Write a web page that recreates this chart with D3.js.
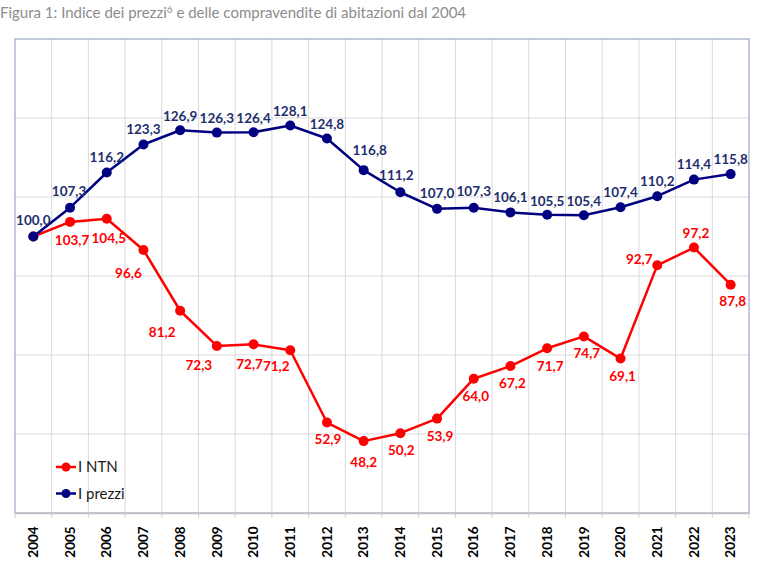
<!DOCTYPE html>
<html>
<head>
<meta charset="utf-8">
<script src="https://cdn.jsdelivr.net/npm/d3@7"></script>
<style>
  html, body { margin: 0; padding: 0; background: #fff; }
  svg { display: block; }
</style>
</head>
<body>
<svg id="chart" width="768" height="574"></svg>
<script>
// ---- DATA ----
const years = ["2004","2005","2006","2007","2008","2009","2010","2011","2012","2013",
               "2014","2015","2016","2017","2018","2019","2020","2021","2022","2023"];
const ntn    = [100.0,103.7,104.5,96.6,81.2,72.3,72.7,71.2,52.9,48.2,
                50.2,53.9,64.0,67.2,71.7,74.7,69.1,92.7,97.2,87.8];
const prezzi = [100.0,107.3,116.2,123.3,126.9,126.3,126.4,128.1,124.8,116.8,
                111.2,107.0,107.3,106.1,105.5,105.4,107.4,110.2,114.4,115.8];
const yTicks = [30,50,70,90,110,130,150];
const seriesNames = ["I NTN","I prezzi"];
const title = "Figura 1: Indice dei prezzi";
const titleSup = "6";
const titleRest = " e delle compravendite di abitazioni dal 2004";

// ---- LAYOUT (label offsets relative to markers, px) ----
const ntnLabelDx = [null,2,2,-15,-18,-18,-4,-14,1,0,1,3,2,2,3,3,2,-18,2,2];
const ntnLabelDy = [null,18,20,23,22,19,20,16,17,21,17,18,18,17,18,17,18,-6,-14,17];
const przLabelDx = [0,-1,0,0,0,0,0,0,0,6,-4,0,0,0,0,0,0,0,0,0];
const przLabelDy = [-16,-16,-15,-15,-14,-14,-14,-14,-14,-20,-17,-16,-16,-15,-14,-14,-15,-15,-15,-15];

const svg = d3.select("#chart");
const font = "Lato, 'Open Sans', sans-serif";
const pLeft = 15, pRight = 749, pTop = 39, pBottom = 513;

const x = d3.scaleBand().domain(years).range([pLeft, pRight]).paddingInner(0).paddingOuter(0);
const y = d3.scaleLinear().domain([30, 150]).range([pBottom, pTop]);
const cx = d => x(d) + x.bandwidth() / 2;

const itFmt = d3.formatLocale({decimal: ",", thousands: ".", grouping: [3], currency: ["", "€"]}).format(".1f");

// title
const t = svg.append("text")
  .attr("x", 0).attr("y", 18)
  .attr("font-family", font).attr("font-size", 15)
  .attr("fill", "#8c8c8c");
t.append("tspan").text(title);
t.append("tspan").attr("dy", -5).attr("font-size", 10).text(titleSup);
t.append("tspan").attr("dy", 5).text(titleRest);

// gridlines
const grid = svg.append("g");
grid.selectAll("line.h").data(yTicks.slice(1, -1)).join("line")
  .attr("x1", pLeft).attr("x2", pRight)
  .attr("y1", d => y(d)).attr("y2", d => y(d))
  .attr("stroke", "#d9d9d9").attr("stroke-width", 1);
const edges = years.slice(1).map(d => x(d));
grid.selectAll("line.v").data(edges).join("line")
  .attr("x1", d => d).attr("x2", d => d)
  .attr("y1", pTop).attr("y2", pBottom)
  .attr("stroke", "#d9d9d9").attr("stroke-width", 1);

// plot border
svg.append("rect")
  .attr("x", pLeft).attr("y", pTop)
  .attr("width", pRight - pLeft).attr("height", pBottom - pTop)
  .attr("fill", "none").attr("stroke", "#a4aecb").attr("stroke-width", 1.3);

// x axis
const xAxis = d3.axisBottom(x).tickSize(0).tickPadding(0);
const ax = svg.append("g").attr("transform", `translate(0,${pBottom})`).call(xAxis);
ax.select(".domain").attr("stroke", "#bfbfbf").attr("stroke-width", 1.5);
ax.selectAll(".tick text")
  .attr("font-family", font).attr("font-size", 13.5).attr("font-weight", "bold")
  .attr("fill", "#000")
  .attr("transform", "rotate(-90)")
  .attr("text-anchor", "middle")
  .attr("x", -29).attr("y", 0).attr("dy", "0.35em");
// tick marks at band boundaries
const tickPos = [pLeft].concat(edges).concat([pRight]);
svg.append("g").selectAll("line").data(tickPos).join("line")
  .attr("x1", d => d).attr("x2", d => d)
  .attr("y1", pBottom).attr("y2", pBottom + 5)
  .attr("stroke", "#d0d0d0").attr("stroke-width", 1);

// lines
const line = d3.line().x((d, i) => cx(years[i])).y(d => y(d));
const series = [
  {name: seriesNames[0], values: ntn, color: "#ff0000", labelColor: "#ff0000", dx: ntnLabelDx, dy: ntnLabelDy},
  {name: seriesNames[1], values: prezzi, color: "#000080", labelColor: "#1f2f6e", dx: przLabelDx, dy: przLabelDy}
];

series.forEach(s => {
  const g = svg.append("g");
  g.append("path").attr("d", line(s.values))
    .attr("fill", "none").attr("stroke", s.color).attr("stroke-width", 2.5)
    .attr("stroke-linejoin", "round");
  g.selectAll("circle").data(s.values).join("circle")
    .attr("cx", (d, i) => cx(years[i])).attr("cy", d => y(d))
    .attr("r", 5).attr("fill", s.color);
});
series.forEach(s => {
  const pts = s.values.map((v, i) => ({v, i})).filter(p => s.dx[p.i] !== null);
  svg.append("g").selectAll("text").data(pts).join("text")
    .attr("x", p => cx(years[p.i]) + s.dx[p.i])
    .attr("y", p => y(p.v) + s.dy[p.i])
    .attr("dy", "0.35em")
    .attr("text-anchor", "middle")
    .attr("font-family", font).attr("font-size", 13.5).attr("font-weight", "bold")
    .attr("fill", s.labelColor)
    .text(p => itFmt(p.v));
});

// legend
const legend = svg.append("g");
series.forEach((s, i) => {
  const ly = 467 + i * 26.5;
  legend.append("line").attr("x1", 56).attr("x2", 76).attr("y1", ly).attr("y2", ly)
    .attr("stroke", s.color).attr("stroke-width", 2.5);
  legend.append("circle").attr("cx", 66).attr("cy", ly).attr("r", 4.5).attr("fill", s.color);
  legend.append("text").attr("x", 78).attr("y", ly).attr("dy", "0.35em")
    .attr("font-family", font).attr("font-size", 15).attr("fill", "#1a1a1a")
    .text(s.name);
});
</script>
</body>
</html>
